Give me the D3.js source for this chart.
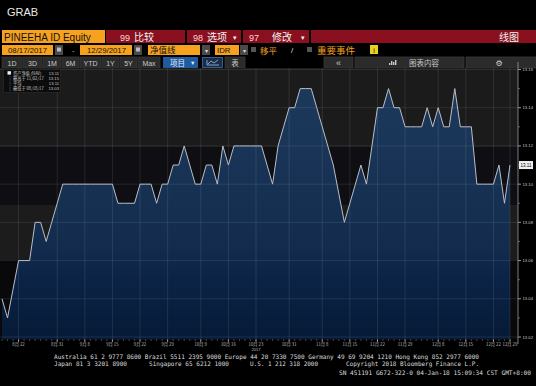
<!DOCTYPE html>
<html><head><meta charset="utf-8">
<script src="https://cdn.jsdelivr.net/npm/d3@7"></script>
<style>html,body{margin:0;padding:0;background:#000;overflow:hidden}</style>
</head><body><svg id="c" width="536" height="386"></svg>
<script>
// ---------------- data ----------------
const startDate = "2017-08-17";
const endDate = "2017-12-29";
const holidays = ["2017-09-01", "2017-12-01", "2017-12-25", "2017-12-26"];
const navValues = [
  13.04, 13.03, 13.045, 13.06, 13.06, 13.06, 13.08, 13.08, 13.07, 13.08, 13.09, 13.10,
  13.10, 13.10, 13.10, 13.10, 13.10, 13.10, 13.10, 13.10, 13.10,
  13.09, 13.09, 13.09, 13.09, 13.10, 13.10, 13.10, 13.09, 13.10, 13.10, 13.11, 13.11,
  13.12, 13.11, 13.10, 13.10, 13.11, 13.11, 13.10, 13.12, 13.11, 13.12,
  13.12, 13.12, 13.12, 13.12, 13.12,
  13.11, 13.10, 13.12, 13.13, 13.14, 13.14, 13.15, 13.15, 13.15, 13.14, 13.13, 13.12,
  13.11, 13.095, 13.08, 13.09, 13.10, 13.11, 13.10, 13.12, 13.14, 13.14, 13.15, 13.14,
  13.14, 13.13, 13.13, 13.13, 13.13, 13.14, 13.13, 13.14, 13.13, 13.13, 13.15, 13.13,
  13.13, 13.13, 13.10, 13.10, 13.10, 13.10, 13.11, 13.09, 13.11
];
const xTickDates = ["2017-08-22","2017-08-31","2017-09-08","2017-09-15","2017-09-22","2017-09-29",
  "2017-10-09","2017-10-16","2017-10-23","2017-10-31","2017-11-08","2017-11-15","2017-11-22",
  "2017-11-29","2017-12-08","2017-12-15","2017-12-22","2017-12-29"];
const yearLabelDate = "2017-10-23";
const yTicks = [13.02, 13.04, 13.06, 13.08, 13.10, 13.12, 13.14, 13.16];
const yMinorTicks = [13.03, 13.05, 13.07, 13.09, 13.11, 13.13, 13.15];
const yDomain = [13.02, 13.16];
const legendLabels = ["资产净值 (NAV)", "最高于", "平均", "最低于"];
const footerLines = [
  "Australia 61 2 9777 8600 Brazil 5511 2395 9000 Europe 44 20 7330 7500 Germany 49 69 9204 1210 Hong Kong 852 2977 6000",
];

// ---------------- setup ----------------
const parse = d3.utcParse("%Y-%m-%d");
const fmtKey = d3.utcFormat("%Y-%m-%d");
const dates = d3.utcDay.range(parse(startDate), d3.utcDay.offset(parse(endDate), 1))
  .filter(d => d.getUTCDay() % 6 !== 0 && !holidays.includes(fmtKey(d)));
const data = dates.map((d, i) => ({date: d, value: navValues[i]}));

const svg = d3.select("#c");
const W = 536, H = 386;
const CJK = "'Noto Sans CJK SC', 'Liberation Sans', sans-serif";
const SANS = "'Liberation Sans', Arial, sans-serif";
const MONO = "'DejaVu Sans Mono', 'Liberation Mono', monospace";

svg.append("rect").attr("width", W).attr("height", H).attr("fill", "#000");

// ---------------- header UI ----------------
svg.append("text").attr("x", 7).attr("y", 16).attr("fill", "#e8e8e8")
  .attr("font-family", SANS).attr("font-size", 11).text("GRAB");

const ORANGE = "#f7a21f", RED = "#8a0f1f", BTN = "#2b2b2b";
function box(x, y, w, h, fill, stroke) {
  return svg.append("rect").attr("x", x).attr("y", y).attr("width", w).attr("height", h)
    .attr("fill", fill).attr("stroke", stroke || "none").attr("stroke-width", stroke ? 0.8 : 0);
}
function txt(x, y, s, size, fill, family, anchor) {
  return svg.append("text").attr("x", x).attr("y", y).attr("font-size", size).attr("fill", fill)
    .attr("font-family", family || CJK).attr("text-anchor", anchor || "start").text(s);
}
// Row 1
box(2, 30, 103, 13, ORANGE);
txt(4, 40.5, "PINEEHA ID Equity", 10, "#111", SANS);
box(106, 30, 79, 13, RED);
txt(120, 40.5, "99", 9, "#ffd6d6", SANS); txt(134, 40.5, "比较", 10, "#f2f2f2");
box(187, 30, 54, 13, RED);
txt(193, 40.5, "98", 9, "#ffd6d6", SANS); txt(207, 40.5, "选项", 10, "#f2f2f2");
txt(233, 39.5, "▾", 7, "#f2f2f2", SANS);
box(243, 30, 66, 13, RED);
txt(249, 40.5, "97", 9, "#ffd6d6", SANS); txt(272, 40.5, "修改", 10, "#f2f2f2");
txt(301, 39.5, "▾", 7, "#f2f2f2", SANS);
box(311, 30, 225, 13, RED);
txt(499, 40.5, "线图", 10, "#f2f2f2");

// Row 2
box(2, 45, 51, 10, ORANGE); txt(8, 53, "08/17/2017", 7.8, "#111", SANS);
box(55, 45, 8, 10, "#4a4a4a"); box(57, 47.5, 4, 4, "#bbb");
txt(72, 52.5, "-", 8, "#aaa", SANS);
box(80, 45, 52, 10, ORANGE); txt(87, 53, "12/29/2017", 7.8, "#111", SANS);
box(134, 45, 8, 10, "#4a4a4a"); box(136, 47.5, 4, 4, "#bbb");
box(148, 45, 52, 10, ORANGE); txt(150, 53, "净值线", 8.5, "#111");
box(202, 45, 8, 10, "#4a4a4a"); txt(206, 52.5, "▾", 6, "#ddd", SANS, "middle");
box(215, 45, 24, 10, ORANGE); txt(217, 53, "IDR", 7.8, "#111", SANS);
box(240, 45, 8, 10, "#4a4a4a"); txt(244, 52.5, "▾", 6, "#ddd", SANS, "middle");
box(251, 47, 5, 5, "#555");
txt(260, 53.5, "移平", 8.5, ORANGE);
txt(291, 53, "/", 8, "#ddd", SANS);
box(307, 47, 5, 5, "#555");
txt(317, 53.5, "重要事件", 9.5, ORANGE);
box(370, 45, 8, 9, "#e8d31a"); txt(374, 52.5, "i", 7, "#111", SANS, "middle");

// Row 3 buttons
const btns = [["1D", 2, 20], ["3D", 23, 19], ["1M", 43, 18], ["6M", 62, 17], ["YTD", 80, 21],
  ["1Y", 102, 17], ["5Y", 120, 17], ["Max", 138, 22]];
btns.forEach(([s, bx, bw]) => {
  box(bx, 57, bw, 11, BTN, "#3a3a3a");
  txt(bx + bw / 2, 65.5, s, 7, "#c8c8c8", SANS, "middle");
});
box(163, 57, 35, 11, "#1f5b9e");
txt(170, 65.5, "项目", 7.5, "#e8eef8"); txt(190, 65, "▼", 5.5, "#e8eef8", SANS);
box(202.5, 57.5, 20, 10, "#1b2c44", "#3b6fb0");
svg.append("path").attr("d", "M207,65 L207,60 M207,65 L219,65 M208,64 L211,61 L214,63 L218,60")
  .attr("stroke", "#9fc3ee").attr("fill", "none").attr("stroke-width", 0.8);
box(225, 57, 20, 11, BTN, "#3a3a3a"); txt(235, 65.5, "表", 7.5, "#c8c8c8", CJK, "middle");
box(324, 57, 29, 11, BTN, "#3a3a3a"); txt(338.5, 65.5, "«", 9, "#c8c8c8", SANS, "middle");
box(355, 57, 109, 11, BTN, "#3a3a3a");
[[389, 63, 2], [391, 61, 4], [393, 62, 3], [395, 60, 5]].forEach(([bx, by, bh]) =>
  box(bx, by, 1.4, bh, "#c8c8c8"));
txt(409, 65.5, "图表内容", 7.5, "#c8c8c8");
box(466, 57, 70, 11, BTN, "#3a3a3a"); txt(499, 66, "⚙", 8, "#d0d0d0", "'DejaVu Sans', sans-serif", "middle");

// ---------------- plot ----------------
const plotL = 0, plotR = 518, plotT = 68, plotB = 339.5;
const x = d3.scaleLinear().domain([0, data.length - 1]).range([2, 510]);
const y = d3.scaleLinear().domain(yDomain).range([337, 69.5]);

// background bands
[[plotT, 147, "#1b1b1b"], [147, 205, "#0f0f13"], [205, 260, "#1c1c1c"], [260, plotB, "#09090c"]]
  .forEach(([a, b, c]) => box(plotL, a, plotR - plotL, b - a, c));

const defs = svg.append("defs");
const grad = defs.append("linearGradient").attr("id", "ag").attr("gradientUnits", "userSpaceOnUse")
  .attr("x1", 0).attr("x2", 0).attr("y1", plotT).attr("y2", plotB);
[[0, "#1d3b5e"], [0.66, "#132c4d"], [0.76, "#0c2447"], [1, "#061a37"]].forEach(([o, c]) =>
  grad.append("stop").attr("offset", o).attr("stop-color", c));

const area = d3.area().x((d, i) => x(i)).y0(plotB).y1(d => y(d.value));
svg.append("path").datum(data).attr("d", area).attr("fill", "url(#ag)");

// gridlines
const grid = svg.append("g").attr("stroke", "rgba(255,255,255,0.12)").attr("stroke-width", 0.8);
yTicks.forEach(v => grid.append("line").attr("x1", plotL).attr("x2", plotR)
  .attr("y1", y(v)).attr("y2", y(v)));
const tickIdx = xTickDates.map(t => dates.findIndex(d => fmtKey(d) === t));
tickIdx.forEach(i => grid.append("line").attr("x1", x(i)).attr("x2", x(i))
  .attr("y1", plotT).attr("y2", plotB));

const line = d3.line().x((d, i) => x(i)).y(d => y(d.value));
svg.append("path").datum(data).attr("d", line).attr("fill", "none")
  .attr("stroke", "#b9bec8").attr("stroke-width", 1);

// right axis
const ax = svg.append("g");
ax.append("line").attr("x1", plotR).attr("x2", plotR).attr("y1", 62).attr("y2", 344)
  .attr("stroke", "#9a9a9a").attr("stroke-width", 0.8);
yTicks.forEach(v => {
  ax.append("line").attr("x1", plotR).attr("x2", plotR + 3).attr("y1", y(v)).attr("y2", y(v))
    .attr("stroke", "#bbb").attr("stroke-width", 0.8);
  ax.append("text").attr("x", plotR + 4.5).attr("y", y(v) + 1.5).attr("font-size", 4.2)
    .attr("fill", "#c4c4c4").attr("font-family", SANS).text(d3.format(".2f")(v));
});
yMinorTicks.forEach(v => ax.append("line").attr("x1", plotR).attr("x2", plotR + 2)
  .attr("y1", y(v)).attr("y2", y(v)).attr("stroke", "#999").attr("stroke-width", 0.6));
const last = data[data.length - 1].value;
ax.append("rect").attr("x", plotR + 1).attr("y", y(last) - 4).attr("width", 14).attr("height", 8)
  .attr("fill", "#f0f0f0");
ax.append("text").attr("x", plotR + 8).attr("y", y(last) + 1.6).attr("font-size", 4.5)
  .attr("text-anchor", "middle").attr("fill", "#000").attr("font-family", SANS)
  .text(d3.format(".2f")(last));

// bottom axis
const bx = svg.append("g");
dates.forEach((d, i) => bx.append("line").attr("x1", x(i)).attr("x2", x(i))
  .attr("y1", plotB).attr("y2", plotB + 1.2).attr("stroke", "#aaa").attr("stroke-width", 0.6));
const xf = d3.utcFormat("%-m月 %-d");
tickIdx.forEach((i, k) => {
  bx.append("line").attr("x1", x(i)).attr("x2", x(i)).attr("y1", plotB).attr("y2", plotB + 2.5)
    .attr("stroke", "#ccc").attr("stroke-width", 0.7);
  bx.append("text").attr("x", x(i)).attr("y", plotB + 6.8).attr("font-size", 4.3)
    .attr("text-anchor", "middle").attr("fill", "#bdbdbd").attr("font-family", CJK)
    .text(xf(dates[i]));
  if (xTickDates[k] === yearLabelDate)
    bx.append("text").attr("x", x(i)).attr("y", plotB + 11.5).attr("font-size", 4.1)
      .attr("text-anchor", "middle").attr("fill", "#bdbdbd").attr("font-family", SANS)
      .text(d3.utcFormat("%Y")(dates[i]));
});

// legend
const vals = data.map(d => d.value);
const iMax = d3.maxIndex(vals), iMin = d3.minIndex(vals);
const df = d3.utcFormat("%m/%d/%y"), vf = d3.format(".2f");
const legRows = [
  [legendLabels[0], vf(last)],
  [legendLabels[1] + " " + df(dates[iMax]), vf(vals[iMax])],
  [legendLabels[2], vf(d3.mean(vals))],
  [legendLabels[3] + " " + df(dates[iMin]), vf(vals[iMin])]
];
const lg = svg.append("g");
lg.append("rect").attr("x", 3.5).attr("y", 69.5).attr("width", 57).attr("height", 23)
  .attr("fill", "#0c0c0c").attr("stroke", "#2e2e2e").attr("stroke-width", 0.6);
legRows.forEach((r, k) => {
  const cy = 73 + k * 5.3;
  if (k === 0) lg.append("rect").attr("x", 7.5).attr("y", cy - 1.8).attr("width", 3.4).attr("height", 3.4).attr("fill", "#f2f2f2");
  else lg.append("line").attr("x1", 10).attr("x2", 10).attr("y1", cy - 2).attr("y2", cy + 2)
    .attr("stroke", "#aaa").attr("stroke-width", 0.5).attr("stroke-dasharray", "0.8,0.8");
  lg.append("text").attr("x", 13).attr("y", cy + 1.5).attr("font-size", 4.2).attr("fill", "#c8c8c8")
    .attr("font-family", CJK).text(r[0]);
  lg.append("text").attr("x", 59).attr("y", cy + 1.5).attr("font-size", 4.2).attr("fill", "#c8c8c8")
    .attr("text-anchor", "end").attr("font-family", SANS).text(r[1]);
});

// ---------------- footer ----------------
function ft(x0, yb, s, len) {
  const t = svg.append("text").attr("x", x0).attr("y", yb).attr("font-size", 6.2).attr("fill", "#dcdcdc")
    .attr("font-family", MONO).text(s);
  if (len) t.attr("textLength", len).attr("lengthAdjust", "spacingAndGlyphs");
}
ft(54, 359, footerLines[0], 425);
ft(54, 365.8, "Japan 81 3 3201 8900", 73);
ft(149, 365.8, "Singapore 65 6212 1000", 80);
ft(250, 365.8, "U.S. 1 212 318 2000", 68);
ft(346, 365.8, "Copyright 2018 Bloomberg Finance L.P.", 133);
ft(339, 374.5, "SN 451191 G672-322-0 04-Jan-18 15:09:34 CST  GMT+8:00", 192);
</script>
</body></html>
